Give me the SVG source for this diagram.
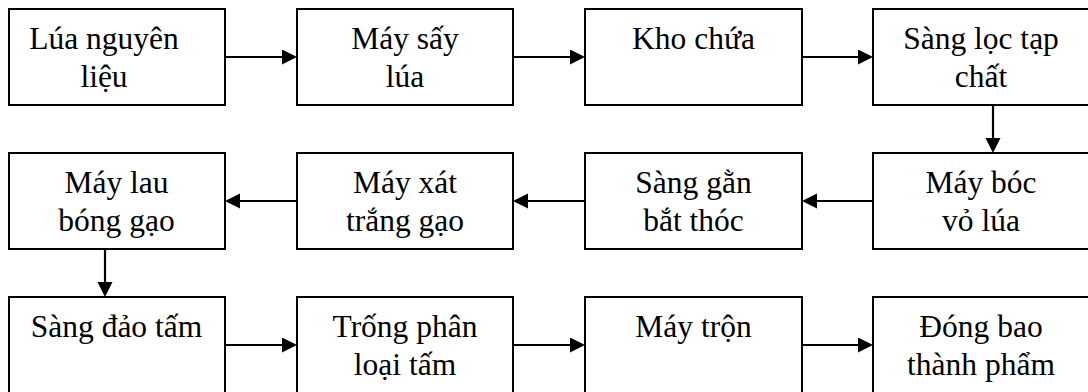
<svg xmlns="http://www.w3.org/2000/svg" width="1088" height="392" viewBox="0 0 1088 392">
  <style>
    .box { fill: #ffffff; stroke: #000000; stroke-width: 2; }
    .lbl { font-family: 'Liberation Serif', 'Times New Roman', serif; font-size: 31.5px; fill: #000000; text-anchor: middle; }
    .flow { stroke: #000000; stroke-width: 2.2; fill: none; marker-end: url(#head); }
  </style>
  <defs>
    <marker id="head" markerUnits="userSpaceOnUse" markerWidth="16" markerHeight="16" refX="7" refY="7.5" orient="auto">
      <path d="M0,0 L15,7.5 L0,15 Z" fill="#000000"/>
    </marker>
  </defs>
  <rect width="1088" height="392" fill="#ffffff"/>

  <g font-family="Liberation Serif, serif">
  <!-- row 1 -->
  <g id="lua-nguyen-lieu">
    <rect class="box" x="9" y="9" width="216" height="96"/>
    <text class="lbl" x="104" y="48.5">Lúa nguyên</text>
    <text class="lbl" x="104" y="86.5">liệu</text>
  </g>
  <g id="may-say-lua">
    <rect class="box" x="297" y="9" width="216" height="96"/>
    <text class="lbl" x="405" y="48.5">Máy sấy</text>
    <text class="lbl" x="405" y="86.5">lúa</text>
  </g>
  <g id="kho-chua">
    <rect class="box" x="585" y="9" width="217" height="96"/>
    <text class="lbl" x="693.5" y="48.5">Kho chứa</text>
  </g>
  <g id="sang-loc-tap-chat">
    <rect class="box" x="873" y="9" width="220" height="96"/>
    <text class="lbl" x="981" y="48.5">Sàng lọc tạp</text>
    <text class="lbl" x="981" y="86.5">chất</text>
  </g>

  <!-- row 2 -->
  <g id="may-lau-bong-gao">
    <rect class="box" x="9" y="153" width="216" height="96"/>
    <text class="lbl" x="116.5" y="192.5">Máy lau</text>
    <text class="lbl" x="116.5" y="230.5">bóng gạo</text>
  </g>
  <g id="may-xat-trang-gao">
    <rect class="box" x="297" y="153" width="216" height="96"/>
    <text class="lbl" x="405" y="192.5">Máy xát</text>
    <text class="lbl" x="405" y="230.5">trắng gạo</text>
  </g>
  <g id="sang-gan-bat-thoc">
    <rect class="box" x="585" y="153" width="217" height="96"/>
    <text class="lbl" x="693.5" y="192.5">Sàng gằn</text>
    <text class="lbl" x="693.5" y="230.5">bắt thóc</text>
  </g>
  <g id="may-boc-vo-lua">
    <rect class="box" x="873" y="153" width="220" height="96"/>
    <text class="lbl" x="981" y="192.5">Máy bóc</text>
    <text class="lbl" x="981" y="230.5">vỏ lúa</text>
  </g>

  <!-- row 3 -->
  <g id="sang-dao-tam">
    <rect class="box" x="9" y="297" width="216" height="100"/>
    <text class="lbl" x="116.5" y="336.5">Sàng đảo tấm</text>
  </g>
  <g id="trong-phan-loai-tam">
    <rect class="box" x="297" y="297" width="216" height="100"/>
    <text class="lbl" x="405" y="336.5">Trống phân</text>
    <text class="lbl" x="405" y="374.5">loại tấm</text>
  </g>
  <g id="may-tron">
    <rect class="box" x="585" y="297" width="217" height="100"/>
    <text class="lbl" x="693.5" y="336.5">Máy trộn</text>
  </g>
  <g id="dong-bao-thanh-pham">
    <rect class="box" x="873" y="297" width="220" height="100"/>
    <text class="lbl" x="981" y="336.5">Đóng bao</text>
    <text class="lbl" x="981" y="374.5">thành phẩm</text>
  </g>
  </g>

  <!-- connectors -->
  <g id="connectors">
    <line class="flow" x1="225" y1="57" x2="289" y2="57"/>
    <line class="flow" x1="513" y1="57" x2="577" y2="57"/>
    <line class="flow" x1="802" y1="57" x2="865" y2="57"/>
    <line class="flow" x1="993" y1="105" x2="993" y2="145"/>
    <line class="flow" x1="873" y1="201" x2="810" y2="201"/>
    <line class="flow" x1="585" y1="201" x2="521" y2="201"/>
    <line class="flow" x1="297" y1="201" x2="233" y2="201"/>
    <line class="flow" x1="105" y1="249" x2="105" y2="289"/>
    <line class="flow" x1="225" y1="345" x2="289" y2="345"/>
    <line class="flow" x1="513" y1="345" x2="577" y2="345"/>
    <line class="flow" x1="802" y1="345" x2="865" y2="345"/>
  </g>
</svg>
